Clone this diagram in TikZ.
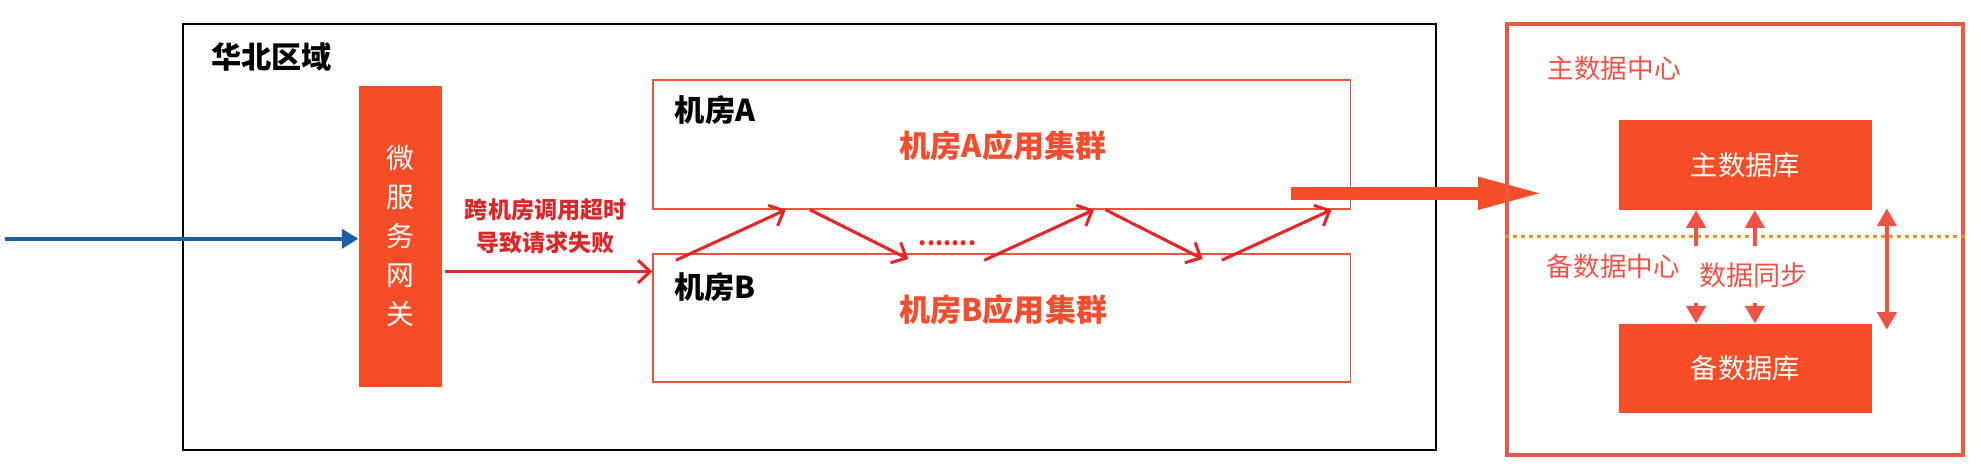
\documentclass[tikz,border=0pt]{standalone}
\usepackage{fontspec}
\setmainfont{Noto Sans CJK SC}
\usetikzlibrary{arrows.meta}
\definecolor{gwred}{HTML}{F44D27}
\definecolor{roomred}{HTML}{E8553B}
\definecolor{hopred}{HTML}{E02828}
\definecolor{failred}{HTML}{D8282A}
\definecolor{appred}{HTML}{F04E2E}
\definecolor{dcred}{HTML}{E85A45}
\definecolor{syncred}{HTML}{F05248}
\definecolor{entryblue}{HTML}{1B5EA3}
\definecolor{splitorange}{HTML}{E8912E}

\tikzset{
  zone/.style={draw=black,line width=0.9pt},
  room/.style={draw=roomred,line width=0.8pt},
  fillbox/.style={fill=gwred,text=white},
  dcbox/.style={draw=dcred,line width=1.7pt},
  txt/.style={inner sep=0pt},
  hop/.style={draw=hopred,line width=1.4pt,-{Straight Barb[length=1.9mm,width=3.6mm]}},
  entry/.style={draw=entryblue,line width=1.7pt,-{Triangle[length=2.6mm,width=3mm]}},
  leap/.style={draw=gwred,line width=2mm,-{Triangle[length=10.6mm,width=4.6mm]}},
  sync/.style={draw=syncred,line width=2pt,-{Triangle[length=2.8mm,width=3mm]}},
  split/.style={draw=splitorange,line width=1.2pt,dash pattern=on 1.8pt off 1.8pt}
}

\begin{document}
\begin{tikzpicture}[x=0.02cm,y=-0.02cm]
\useasboundingbox (0,0) rectangle (1568,374);

% north region
\node[zone,minimum width=19.84cm,minimum height=6.74cm] (huabei) at (641,187.5) {};
\node[txt,font=\fontsize{13.6}{16}\selectfont\bfseries] (huabeilbl) at (215,45) {华北区域};

\node[fillbox,minimum width=1.32cm,minimum height=4.76cm] (gw) at (317,187) {};
\node[txt,text=white,align=center,font=\fontsize{12.5}{17.6}\selectfont] (gwlbl) at (gw.center) {微\\服\\务\\网\\关};

\node[room,minimum width=11.04cm,minimum height=2.04cm] (roomA) at (793,114.5) {};
\node[room,minimum width=11.04cm,minimum height=2.03cm] (roomB) at (793,251.75) {};
\node[txt,font=\fontsize{13.6}{16}\selectfont\bfseries] (roomAlbl) at (566,87) {机房A};
\node[txt,font=\fontsize{13.6}{16}\selectfont\bfseries] (roomBlbl) at (566,227) {机房B};
\node[txt,text=appred,font=\fontsize{14}{16}\selectfont\bfseries] (appA) at (794,115) {机房A应用集群};
\node[txt,text=appred,font=\fontsize{14}{16}\selectfont\bfseries] (appB) at (794,245) {机房B应用集群};

\coordinate (client) at (4,189);
\draw[entry] (client) -- (client -| gw.west);

\coordinate (fail) at (352,215);
\draw[hop] (fail) -- (fail -| roomB.west);
\node[txt,text=failred,align=center,font=\fontsize{10.4}{14.7}\selectfont\bfseries] (faillbl) at (432,179) {跨机房调用超时\\导致请求失败};

% bouncing between A and B
\foreach \s/\e [count=\i] in {535/622,779/866,967/1054}{
  \coordinate (lo\i) at (\s,206);
  \coordinate (hi\i) at (\e,166);
  \draw[hop] (lo\i) -- (hi\i);
}
\foreach \s/\e [count=\i] in {641/719,875/952}{
  \coordinate (top\i) at (\s,166);
  \coordinate (bot\i) at (\e,205);
  \draw[hop] (top\i) -- (bot\i);
}
\node[txt,anchor=base west,text=hopred,font=\fontsize{10.5}{12}\selectfont\bfseries] (dots) at (727,194) {.......};

\coordinate (jump) at (1022,153);
\coordinate (land) at (1223,153);
\draw[leap] (jump) -- (land);

% data centers
\node[dcbox,minimum width=7.22cm,minimum height=6.82cm] (dc) at (1373.5,189.5) {};
\node[txt,text=syncred,font=\fontsize{12}{14}\selectfont] (mainlbl) at (1277.6,54) {主数据中心};
\node[txt,text=syncred,font=\fontsize{12}{14}\selectfont] (backlbl) at (1277,211) {备数据中心};
\coordinate (cut) at (1200,187.3);
\draw[split] (dc.west |- cut) -- (dc.east |- cut);

\node[fillbox,minimum width=4cm,minimum height=1.42cm,font=\fontsize{12.3}{14}\selectfont] (mdb) at (1381.6,130.5) {主数据库};
\node[fillbox,minimum width=4cm,minimum height=1.41cm,font=\fontsize{12.3}{14}\selectfont] (sdb) at (1381.6,291.75) {备数据库};

\coordinate (s1) at (1342.5,195);
\coordinate (s2) at (1389,195);
\coordinate (t1) at (1342.5,240);
\coordinate (t2) at (1389,240);
\draw[sync] (s1) -- (s1 |- mdb.south);
\draw[sync] (s2) -- (s2 |- mdb.south);
\draw[sync] (t1) -- (t1 |- sdb.north);
\draw[sync] (t2) -- (t2 |- sdb.north);
\node[txt,text=syncred,font=\fontsize{12.2}{14}\selectfont] (synclbl) at (1388,218) {数据同步};

\coordinate (d1) at (1493.5,165);
\coordinate (d2) at (1493.5,261);
\draw[sync,{Triangle[length=2.8mm,width=3mm]}-{Triangle[length=2.8mm,width=3mm]}] (d1) -- (d2);
\end{tikzpicture}
\end{document}
